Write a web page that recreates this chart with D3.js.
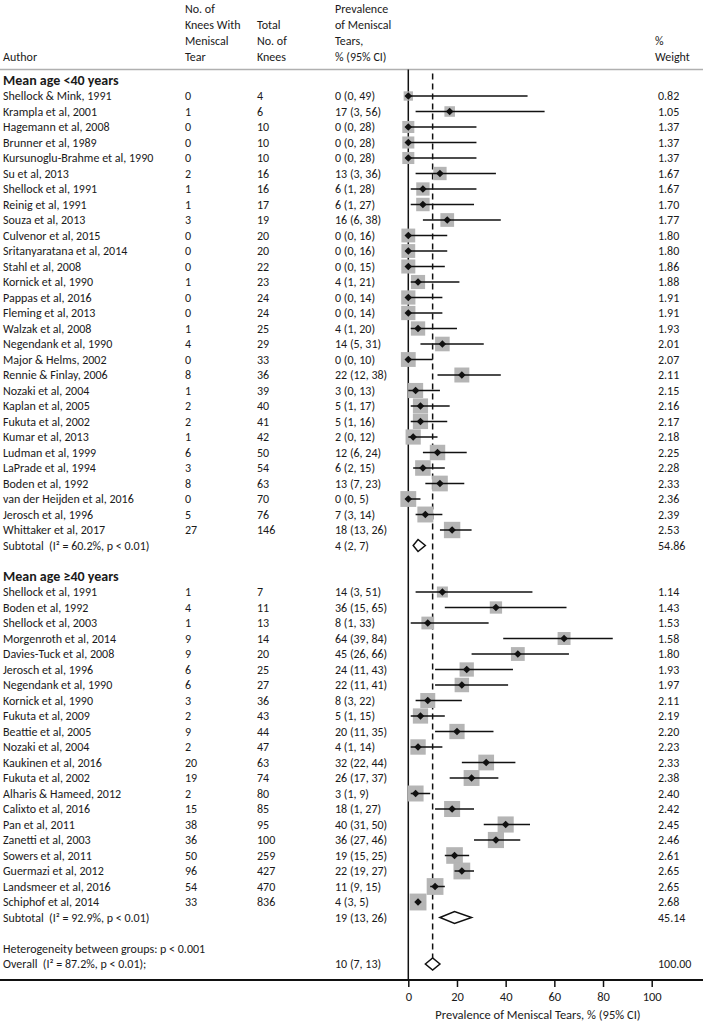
<!DOCTYPE html>
<html>
<head>
<meta charset="utf-8">
<script src="https://cdn.jsdelivr.net/npm/d3@7"></script>
<style>
  body { margin: 0; background: #fff; }
  svg { display: block; }
  text { font-family: Carlito, Lato, "Open Sans", sans-serif; fill: #1a1a1a; white-space: pre; }
</style>
</head>
<body>
<svg id="chart" width="703" height="1022"></svg>
<script>
// ---------- DATA ----------
const group1Name = "Mean age <40 years";
const group1Authors = ["Shellock & Mink, 1991","Krampla et al, 2001","Hagemann et al, 2008","Brunner et al, 1989","Kursunoglu-Brahme et al, 1990","Su et al, 2013","Shellock et al, 1991","Reinig et al, 1991","Souza et al, 2013","Culvenor et al, 2015","Sritanyaratana et al, 2014","Stahl et al, 2008","Kornick et al, 1990","Pappas et al, 2016","Fleming et al, 2013","Walzak et al, 2008","Negendank et al, 1990","Major & Helms, 2002","Rennie & Finlay, 2006","Nozaki et al, 2004","Kaplan et al, 2005","Fukuta et al, 2002","Kumar et al, 2013","Ludman et al, 1999","LaPrade et al, 1994","Boden et al, 1992","van der Heijden et al, 2016","Jerosch et al, 1996","Whittaker et al, 2017"];
const group1Tears = [0,1,0,0,0,2,1,1,3,0,0,0,1,0,0,1,4,0,8,1,2,2,1,6,3,8,0,5,27];
const group1Knees = [4,6,10,10,10,16,16,17,19,20,20,22,23,24,24,25,29,33,36,39,40,41,42,50,54,63,70,76,146];
const group1Est = [0,17,0,0,0,13,6,6,16,0,0,0,4,0,0,4,14,0,22,3,5,5,2,12,6,13,0,7,18];
const group1Lo  = [0,3,0,0,0,3,1,1,6,0,0,0,1,0,0,1,5,0,12,0,1,1,0,6,2,7,0,3,13];
const group1Hi  = [49,56,28,28,28,36,28,27,38,16,16,15,21,14,14,20,31,10,38,13,17,16,12,24,15,23,5,14,26];
const group1CIText = ["0 (0, 49)","17 (3, 56)","0 (0, 28)","0 (0, 28)","0 (0, 28)","13 (3, 36)","6 (1, 28)","6 (1, 27)","16 (6, 38)","0 (0, 16)","0 (0, 16)","0 (0, 15)","4 (1, 21)","0 (0, 14)","0 (0, 14)","4 (1, 20)","14 (5, 31)","0 (0, 10)","22 (12, 38)","3 (0, 13)","5 (1, 17)","5 (1, 16)","2 (0, 12)","12 (6, 24)","6 (2, 15)","13 (7, 23)","0 (0, 5)","7 (3, 14)","18 (13, 26)"];
const group1Weight = ["0.82","1.05","1.37","1.37","1.37","1.67","1.67","1.70","1.77","1.80","1.80","1.86","1.88","1.91","1.91","1.93","2.01","2.07","2.11","2.15","2.16","2.17","2.18","2.25","2.28","2.33","2.36","2.39","2.53"];
const subtotal1Label = "Subtotal  (I\u00B2 = 60.2%, p < 0.01)";
const subtotal1 = {est: 4, lo: 2, hi: 7, text: "4 (2, 7)", weight: "54.86"};

const group2Name = "Mean age \u226540 years";
const group2Authors = ["Shellock et al, 1991","Boden et al, 1992","Shellock et al, 2003","Morgenroth et al, 2014","Davies-Tuck et al, 2008","Jerosch et al, 1996","Negendank et al, 1990","Kornick et al, 1990","Fukuta et al, 2009","Beattie et al, 2005","Nozaki et al, 2004","Kaukinen et al, 2016","Fukuta et al, 2002","Alharis & Hameed, 2012","Calixto et al, 2016","Pan et al, 2011","Zanetti et al, 2003","Sowers et al, 2011","Guermazi et al, 2012","Landsmeer et al, 2016","Schiphof et al, 2014"];
const group2Tears = [1,4,1,9,9,6,6,3,2,9,2,20,19,2,15,38,36,50,96,54,33];
const group2Knees = [7,11,13,14,20,25,27,36,43,44,47,63,74,80,85,95,100,259,427,470,836];
const group2Est = [14,36,8,64,45,24,22,8,5,20,4,32,26,3,18,40,36,19,22,11,4];
const group2Lo  = [3,15,1,39,26,11,11,3,1,11,1,22,17,1,11,31,27,15,19,9,3];
const group2Hi  = [51,65,33,84,66,43,41,22,15,35,14,44,37,9,27,50,46,25,27,15,5];
const group2CIText = ["14 (3, 51)","36 (15, 65)","8 (1, 33)","64 (39, 84)","45 (26, 66)","24 (11, 43)","22 (11, 41)","8 (3, 22)","5 (1, 15)","20 (11, 35)","4 (1, 14)","32 (22, 44)","26 (17, 37)","3 (1, 9)","18 (1, 27)","40 (31, 50)","36 (27, 46)","19 (15, 25)","22 (19, 27)","11 (9, 15)","4 (3, 5)"];
const group2Weight = ["1.14","1.43","1.53","1.58","1.80","1.93","1.97","2.11","2.19","2.20","2.23","2.33","2.38","2.40","2.42","2.45","2.46","2.61","2.65","2.65","2.68"];
const subtotal2Label = "Subtotal  (I\u00B2 = 92.9%, p < 0.01)";
const subtotal2 = {est: 19, lo: 13, hi: 26, text: "19 (13, 26)", weight: "45.14"};

const heterogeneityLabel = "Heterogeneity between groups: p < 0.001";
const overallLabel = "Overall  (I\u00B2 = 87.2%, p < 0.01);";
const overall = {est: 10, lo: 7, hi: 13, text: "10 (7, 13)", weight: "100.00"};

const xTicks = [0, 20, 40, 60, 80, 100];
const xTitle = "Prevalence of Meniscal Tears, % (95% CI)";
const headerAuthor = ["Author"];
const headerTears = ["No. of", "Knees With", "Meniscal", "Tear"];
const headerKnees = ["Total", "No. of", "Knees"];
const headerPrev = ["Prevalence", "of Meniscal", "Tears,", "% (95% CI)"];
const headerWeight = ["%", "Weight"];

// ---------- BUILD ROWS ----------
const rows = [];
let idx = 0;
rows.push({type: "group", label: group1Name, i: idx++});
group1Authors.forEach((a, k) => rows.push({type: "study", label: a, tears: group1Tears[k], knees: group1Knees[k],
  est: group1Est[k], lo: group1Lo[k], hi: group1Hi[k], text: group1CIText[k], weight: group1Weight[k], i: idx++}));
rows.push(Object.assign({type: "sub", label: subtotal1Label, i: idx++}, subtotal1));
idx++;
rows.push({type: "group", label: group2Name, i: idx++});
group2Authors.forEach((a, k) => rows.push({type: "study", label: a, tears: group2Tears[k], knees: group2Knees[k],
  est: group2Est[k], lo: group2Lo[k], hi: group2Hi[k], text: group2CIText[k], weight: group2Weight[k], i: idx++}));
rows.push(Object.assign({type: "sub", label: subtotal2Label, i: idx++}, subtotal2));
idx++;
rows.push({type: "note", label: heterogeneityLabel, i: idx++});
rows.push(Object.assign({type: "overall", label: overallLabel, i: idx++}, overall));

// ---------- LAYOUT ----------
const W = 703, H = 1022;
const svg = d3.select("#chart");
const x = d3.scaleLinear().domain([0, 100]).range([408.3, 651.7]);
const y = d3.scaleLinear().domain([0, idx - 1]).range([80.5, 964]);
const colAuthor = 3, colTears = 185, colKnees = 257, colPrev = 335, colWeight = 658;
const headerLineY = 69.5, axisY = 980;
const fs = 12;

// header
const hdrY = d3.scaleLinear().domain([0, 3]).range([9, 57]);
function header(lines, xpos, startLine) {
  lines.forEach((t, k) => svg.append("text").attr("x", xpos).attr("y", hdrY(startLine + k))
    .attr("dominant-baseline", "central").attr("font-size", fs).text(t));
}
header(headerAuthor, colAuthor, 3);
header(headerTears, colTears, 0);
header(headerKnees, colKnees, 1);
header(headerPrev, colPrev, 0);
header(headerWeight, colWeight - 3, 2);

svg.append("line").attr("x1", 0).attr("x2", W).attr("y1", headerLineY).attr("y2", headerLineY)
  .attr("stroke", "#b0b0b0").attr("stroke-width", 1.5);

// reference lines
svg.append("line").attr("x1", x(0)).attr("x2", x(0)).attr("y1", headerLineY).attr("y2", axisY)
  .attr("stroke", "#111").attr("stroke-width", 1.5);
svg.append("line").attr("x1", x(overall.est)).attr("x2", x(overall.est))
  .attr("y1", headerLineY + 4).attr("y2", y(idx - 1) - 6)
  .attr("stroke", "#111").attr("stroke-width", 1.5).attr("stroke-dasharray", "6,4");

// text columns
const g = svg.append("g");
rows.forEach(r => {
  const yy = y(r.i);
  const t = (xpos, s, opts = {}) => g.append("text").attr("x", xpos).attr("y", yy)
    .attr("dominant-baseline", "central").attr("font-size", opts.size || fs)
    .attr("font-weight", opts.bold ? "bold" : null).text(s);
  if (r.type === "group") { t(colAuthor, r.label, {bold: true, size: 14}); return; }
  t(colAuthor, r.label);
  if (r.type === "study") { t(colTears, r.tears); t(colKnees, r.knees); }
  if (r.text) t(colPrev, r.text);
  if (r.weight) t(colWeight, r.weight);
});

// study markers
const studies = rows.filter(r => r.type === "study");
const boxSide = w => 10.3 * Math.sqrt(+w);
svg.append("g").selectAll("rect").data(studies).join("rect")
  .attr("x", d => x(d.est) - boxSide(d.weight) / 2)
  .attr("y", d => y(d.i) - boxSide(d.weight) / 2)
  .attr("width", d => boxSide(d.weight)).attr("height", d => boxSide(d.weight))
  .attr("fill", "#b5b5b5");
svg.append("g").selectAll("line").data(studies).join("line")
  .attr("x1", d => x(d.lo)).attr("x2", d => x(d.hi))
  .attr("y1", d => y(d.i)).attr("y2", d => y(d.i))
  .attr("stroke", "#111").attr("stroke-width", 1.5);
svg.append("g").selectAll("path").data(studies).join("path")
  .attr("d", d => { const cx = x(d.est), cy = y(d.i), r = 3.8;
    return `M${cx},${cy - r}L${cx + r},${cy}L${cx},${cy + r}L${cx - r},${cy}Z`; })
  .attr("fill", "#111");

// summary diamonds
const sums = rows.filter(r => r.type === "sub" || r.type === "overall");
svg.append("g").selectAll("path").data(sums).join("path")
  .attr("d", d => { const cy = y(d.i), h = 6;
    return `M${x(d.lo)},${cy}L${x(d.est)},${cy - h}L${x(d.hi)},${cy}L${x(d.est)},${cy + h}Z`; })
  .attr("fill", "#fff").attr("stroke", "#111").attr("stroke-width", 1.5);

// axis
svg.append("line").attr("x1", 0).attr("x2", W).attr("y1", axisY).attr("y2", axisY)
  .attr("stroke", "#111").attr("stroke-width", 2);
const axis = svg.append("g").attr("transform", `translate(0,${axisY})`)
  .call(d3.axisBottom(x).tickValues(xTicks).tickSize(7).tickPadding(5));
axis.select(".domain").remove();
axis.selectAll(".tick line").attr("stroke", "#111").attr("stroke-width", 1.5);
axis.selectAll(".tick text").attr("font-size", 12.5).attr("font-family", null).attr("fill", "#1a1a1a");
svg.append("text").attr("x", 538).attr("y", 1014)
  .attr("text-anchor", "middle").attr("dominant-baseline", "central").attr("font-size", 12.5).text(xTitle);
</script>
</body>
</html>
